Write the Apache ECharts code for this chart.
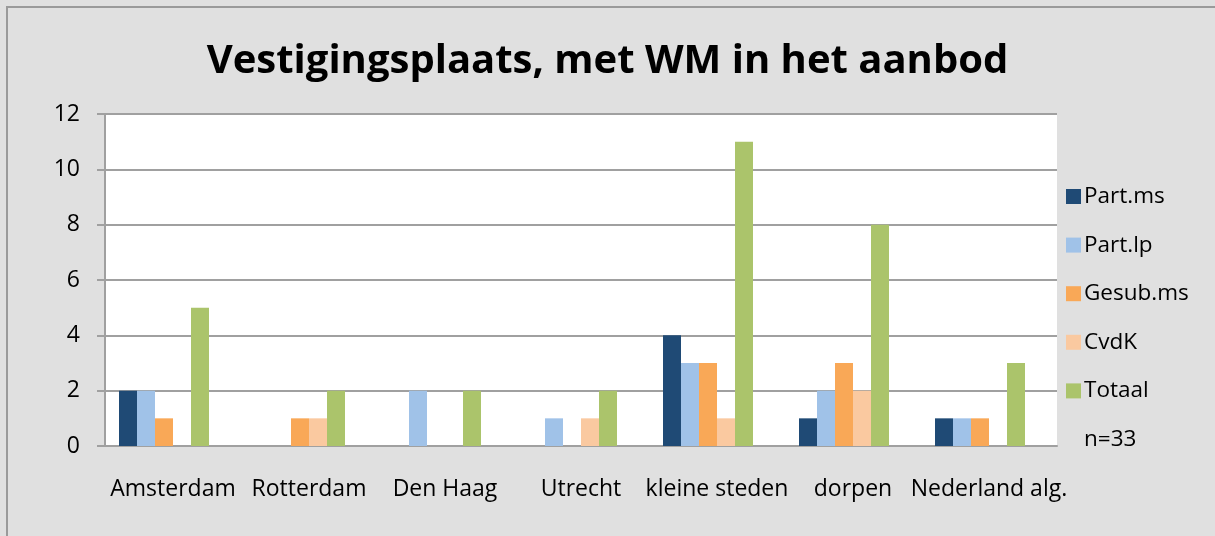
<!DOCTYPE html>
<html>
<head>
<meta charset="utf-8">
<script src="https://cdn.jsdelivr.net/npm/echarts@6/dist/echarts.min.js"></script>
<style>
    html, body { margin: 0; padding: 0; background: #e0e0e0; }
    #chart { width: 1215px; height: 536px; }
</style>
</head>
<body>
<div id="chart"></div>
<script>
const categories = ['Amsterdam', 'Rotterdam', 'Den Haag', 'Utrecht', 'kleine steden', 'dorpen', 'Nederland alg.'];
const partMs = [2, 0, 0, 0, 4, 1, 1];
const partLp = [2, 0, 2, 1, 3, 2, 1];
const gesubMs = [1, 1, 0, 0, 3, 3, 1];
const cvdK = [0, 1, 0, 1, 1, 2, 0];
const totaal = [5, 2, 2, 2, 11, 8, 3];
const nNote = [0, 0, 0, 0, 0, 0, 0];

document.addEventListener('DOMContentLoaded', function () {
    const chartDom = document.getElementById('chart');
    const myChart = echarts.init(chartDom);
    const font = '"Open Sans", Lato, sans-serif';

    function bar(name, data, color) {
        return {
            name: name,
            type: 'bar',
            data: data,
            barWidth: 18,
            barGap: '0%',
            itemStyle: { color: color },
            emphasis: { disabled: true }
        };
    }

    const option = {
        animation: false,
        backgroundColor: '#e0e0e0',
        textStyle: { fontFamily: font },
        graphic: [
            {
                type: 'rect',
                shape: { x: 7, y: 7, width: 1220, height: 540 },
                style: { fill: 'none', stroke: '#9a9a9a', lineWidth: 2 },
                silent: true
            }
        ],
        title: {
            text: 'Vestigingsplaats, met WM in het aanbod',
            left: 'center',
            top: 37,
            textStyle: { fontSize: 40, fontWeight: 'bold', color: '#000', fontFamily: font }
        },
        legend: {
            orient: 'vertical',
            left: 1061,
            top: 180,
            icon: 'rect',
            itemWidth: 15,
            itemHeight: 15,
            itemGap: 25.6,
            textStyle: { fontSize: 22.5, lineHeight: 22, color: '#000', fontFamily: font, padding: [0, 0, 0, -2] },
            data: [
                { name: 'Part.ms' },
                { name: 'Part.lp' },
                { name: 'Gesub.ms' },
                { name: 'CvdK' },
                { name: 'Totaal' },
                { name: 'n=33', icon: 'none' }
            ]
        },
        grid: {
            left: 105,
            top: 114,
            width: 952,
            height: 332,
            show: true,
            backgroundColor: '#ffffff',
            borderWidth: 0
        },
        xAxis: {
            type: 'category',
            data: categories,
            axisLine: { lineStyle: { color: '#a0a0a0', width: 2 } },
            axisTick: { length: 7, lineStyle: { color: '#a0a0a0', width: 2 } },
            axisLabel: { color: '#000', fontSize: 23, margin: 32, fontFamily: font, interval: 0 }
        },
        yAxis: {
            type: 'value',
            min: 0,
            max: 12,
            interval: 2,
            axisLine: { show: true, lineStyle: { color: '#a0a0a0', width: 2 } },
            axisTick: { show: true, length: 8, lineStyle: { color: '#a0a0a0', width: 2 } },
            splitLine: { lineStyle: { color: '#a0a0a0', width: 2 } },
            axisLabel: { color: '#000', fontSize: 23, margin: 25, fontFamily: font }
        },
        series: [
            bar('Part.ms', partMs, '#1f4a75'),
            bar('Part.lp', partLp, '#a0c2e8'),
            bar('Gesub.ms', gesubMs, '#f9a857'),
            bar('CvdK', cvdK, '#fac9a0'),
            bar('Totaal', totaal, '#abc46b'),
            bar('n=33', nNote, 'rgba(0,0,0,0)')
        ]
    };

    myChart.setOption(option);
});
</script>
</body>
</html>
